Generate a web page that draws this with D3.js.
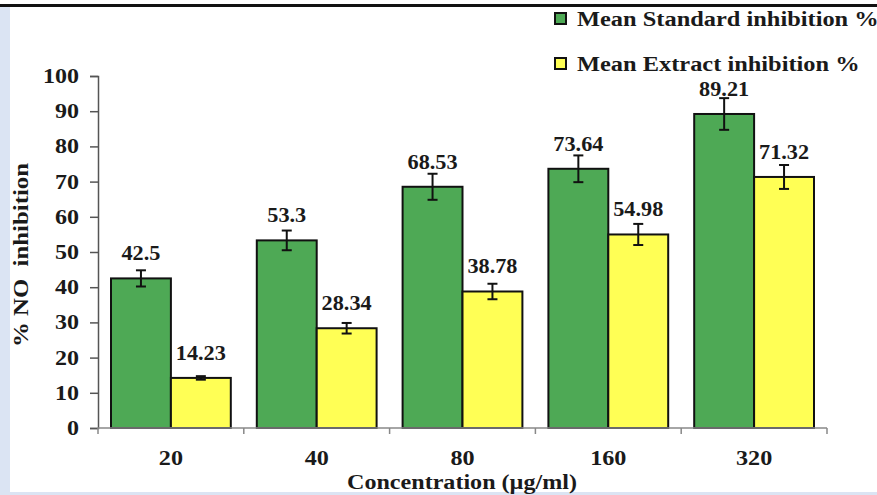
<!DOCTYPE html>
<html>
<head>
<meta charset="utf-8">
<script src="https://cdn.jsdelivr.net/npm/d3@7"></script>
<style>
  body { margin: 0; background: #fff; }
  svg { display: block; }
  text { font-family: "Liberation Serif", "Times New Roman", serif; font-weight: bold; fill: #1a1a1a; }
</style>
</head>
<body>
<svg width="877" height="495"></svg>
<script>
const categories = ['20', '40', '80', '160', '320'];
const seriesNames = ['Mean Standard inhibition %', 'Mean Extract inhibition %'];
const standardValues = [42.5, 53.3, 68.53, 73.64, 89.21];
const extractValues = [14.23, 28.34, 38.78, 54.98, 71.32];
const standardErrors = [2.3, 2.8, 3.7, 3.8, 4.5];
const extractErrors = [0.5, 1.5, 2.2, 3.0, 3.4];
const yTicks = [0, 10, 20, 30, 40, 50, 60, 70, 80, 90, 100];
const colors = ['#4ea955', '#ffff55'];

const svg = d3.select('svg');

// the original text is a little wider than the font, stretch it
function stretch(sel, k) {
  sel.each(function () {
    const w = this.getComputedTextLength();
    d3.select(this).attr('textLength', w * k).attr('lengthAdjust', 'spacingAndGlyphs');
  });
}

// frame decorations
svg.append('rect').attr('x', 0).attr('y', 7).attr('width', 10).attr('height', 488).attr('fill', '#dbe4f3');
svg.append('rect').attr('x', 0).attr('y', 492).attr('width', 877).attr('height', 3).attr('fill', '#dbe4f3');
svg.append('rect').attr('x', 0).attr('y', 4).attr('width', 877).attr('height', 3).attr('fill', '#111');

const margin = { left: 98, right: 50, top: 76, bottom: 67 };
const width = 877 - margin.left - margin.right;
const height = 495 - margin.top - margin.bottom;

const g = svg.append('g').attr('transform', 'translate(' + margin.left + ',' + margin.top + ')');

const x0 = d3.scaleBand().domain(categories).range([0, width]).paddingInner(0).paddingOuter(0);
const x1 = d3.scaleBand().domain(seriesNames).range([13, x0.bandwidth() - 13]);
const y = d3.scaleLinear().domain([0, 100]).range([height, 0]);
const z = d3.scaleOrdinal().domain(seriesNames).range(colors);

const data = categories.map(function (c, i) {
  return {
    cat: c,
    values: [
      { type: seriesNames[0], value: standardValues[i], err: standardErrors[i] },
      { type: seriesNames[1], value: extractValues[i], err: extractErrors[i] }
    ]
  };
});

const barG = g.append('g').selectAll('g').data(data).enter().append('g')
  .attr('transform', function (d) { return 'translate(' + x0(d.cat) + ',0)'; });

barG.selectAll('rect').data(function (d) { return d.values; }).enter().append('rect')
  .attr('x', function (d) { return x1(d.type); })
  .attr('width', x1.bandwidth())
  .attr('y', function (d) { return y(d.value); })
  .attr('height', function (d) { return height - y(d.value); })
  .attr('fill', function (d) { return z(d.type); })
  .attr('stroke', '#111')
  .attr('stroke-width', 2);

// error bars
const errG = barG.selectAll('.err').data(function (d) { return d.values; }).enter().append('g')
  .attr('class', 'err')
  .attr('transform', function (d) { return 'translate(' + (x1(d.type) + x1.bandwidth() / 2) + ',0)'; });

errG.append('line')
  .attr('y1', function (d) { return y(d.value + d.err); })
  .attr('y2', function (d) { return y(d.value - d.err); })
  .attr('stroke', '#111').attr('stroke-width', 2);
errG.append('line')
  .attr('x1', -5).attr('x2', 5)
  .attr('y1', function (d) { return y(d.value + d.err); })
  .attr('y2', function (d) { return y(d.value + d.err); })
  .attr('stroke', '#111').attr('stroke-width', 2);
errG.append('line')
  .attr('x1', -5).attr('x2', 5)
  .attr('y1', function (d) { return y(d.value - d.err); })
  .attr('y2', function (d) { return y(d.value - d.err); })
  .attr('stroke', '#111').attr('stroke-width', 2);

// value labels
barG.selectAll('.lbl').data(function (d) { return d.values; }).enter().append('text')
  .attr('class', 'lbl')
  .attr('x', function (d) { return x1(d.type) + x1.bandwidth() / 2; })
  .attr('y', function (d) { return y(d.value) - 18; })
  .attr('text-anchor', 'middle')
  .style('font-size', '21px')
  .text(function (d) { return d.value; })
  .call(stretch, 1.06);

// y axis
const yAxis = g.append('g')
  .call(d3.axisLeft(y).tickValues(yTicks).tickSize(8).tickSizeOuter(8).tickPadding(11));
yAxis.select('.domain').attr('stroke', '#555').attr('stroke-width', 1.5);
yAxis.selectAll('.tick line').attr('stroke', '#555').attr('stroke-width', 1.5);
yAxis.selectAll('text').style('font-size', '20px').attr('fill', '#1a1a1a')
  .call(stretch, 1.2);

// x axis: baseline with ticks at band boundaries
const xAxis = g.append('g').attr('transform', 'translate(0,' + height + ')');
xAxis.append('line').attr('x1', 0).attr('x2', width).attr('stroke', '#888').attr('stroke-width', 1.5);
xAxis.selectAll('.btick').data(categories.concat(['end'])).enter().append('line')
  .attr('x1', function (d, i) { return i * x0.step(); })
  .attr('x2', function (d, i) { return i * x0.step(); })
  .attr('y1', 0).attr('y2', 6)
  .attr('stroke', '#888').attr('stroke-width', 1.5);
xAxis.selectAll('.xlbl').data(categories).enter().append('text')
  .attr('x', function (d) { return x0(d) + x0.bandwidth() / 2; })
  .attr('y', 37)
  .attr('text-anchor', 'middle')
  .style('font-size', '21px')
  .text(function (d) { return d; })
  .call(stretch, 1.15);

// axis titles
svg.append('text')
  .attr('transform', 'translate(28,255) rotate(-90)')
  .attr('text-anchor', 'middle')
  .style('font-size', '20px')
  .attr('xml:space', 'preserve')
  .text('% NO  inhibition')
  .attr('textLength', 184)
  .attr('lengthAdjust', 'spacingAndGlyphs');

svg.append('text')
  .attr('x', 462).attr('y', 489)
  .attr('text-anchor', 'middle')
  .style('font-size', '20px')
  .text('Concentration (µg/ml)')
  .attr('textLength', 230)
  .attr('lengthAdjust', 'spacingAndGlyphs');

// legend
const legend = svg.append('g').selectAll('g').data(seriesNames).enter().append('g')
  .attr('transform', function (d, i) { return 'translate(555,' + (13 + i * 45) + ')'; });
legend.append('rect')
  .attr('width', 11).attr('height', 11)
  .attr('fill', z).attr('stroke', '#111').attr('stroke-width', 2);
legend.append('text')
  .attr('x', 22).attr('y', 13)
  .style('font-size', '20px')
  .text(function (d) { return d; })
  .call(stretch, 1.22);
</script>
</body>
</html>
